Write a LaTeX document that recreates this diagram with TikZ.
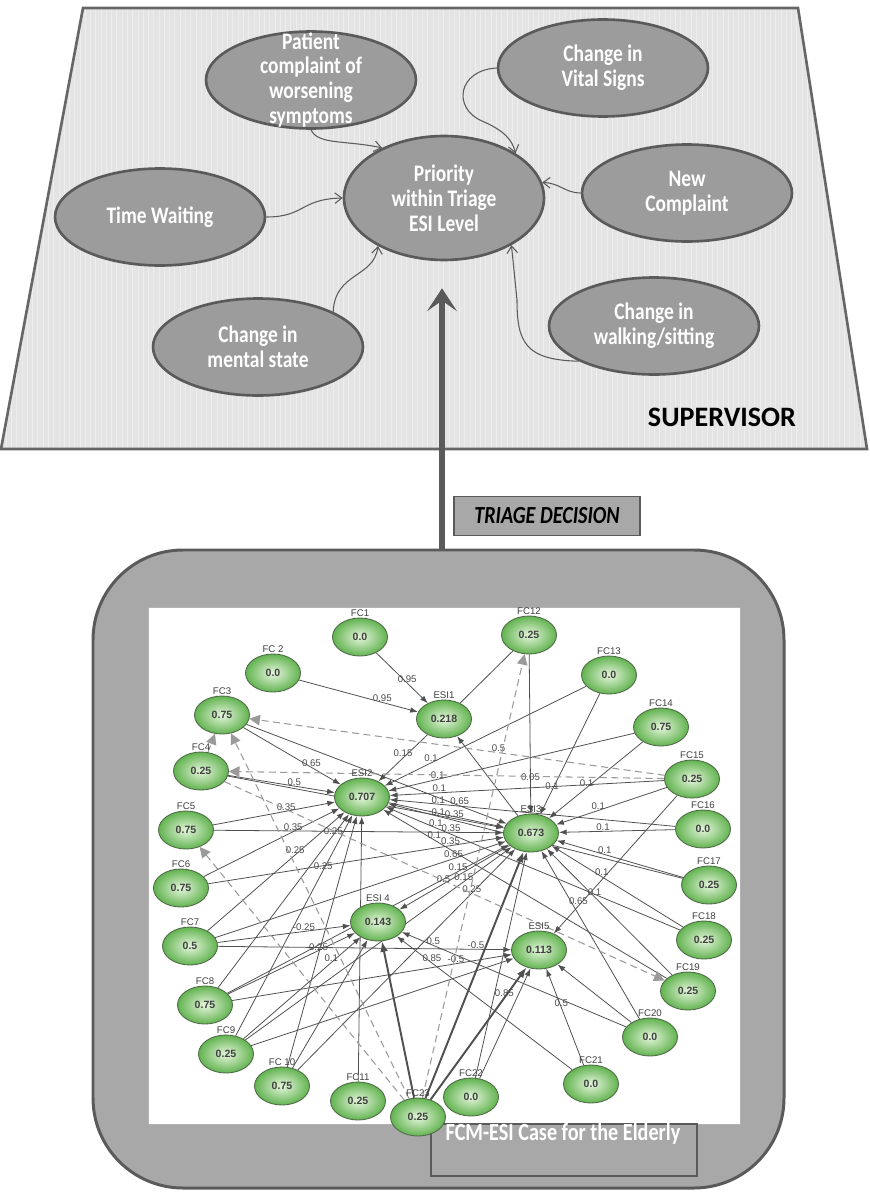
\documentclass[tikz,border=0pt]{standalone}
\usepackage{fontspec}
\setmainfont{Liberation Sans}
\newfontfamily\condfont{Carlito}[FakeStretch=0.82]
\newfontfamily\capsfont{Carlito}
\usetikzlibrary{positioning,arrows.meta,shapes.geometric,patterns}
\pgfdeclarelayer{back}
\pgfsetlayers{back,main}
\definecolor{panelgray}{HTML}{E4E4E4}
\definecolor{bubblegray}{HTML}{9C9C9C}
\definecolor{rimgray}{HTML}{5A5A5A}
\definecolor{boxgray}{HTML}{A8A8A8}
\definecolor{edgegray}{HTML}{505050}
\definecolor{dashgray}{HTML}{9A9A9A}
\definecolor{fcmgreen}{HTML}{62B350}
\definecolor{fcmlight}{HTML}{E6F6DD}
\definecolor{fcmrim}{HTML}{4F6B47}
\tikzset{
  bubble/.style={ellipse, draw=rimgray, line width=1.5pt, fill=bubblegray,
    minimum width=4.2cm, minimum height=1.94cm, inner sep=0pt},
  bubbletext/.style={align=center, text=white, inner sep=0pt,
    font=\condfont\bfseries\fontsize{13.5}{14.2}\selectfont},
  soft/.style={draw=rimgray, line width=0.6pt, -{Straight Barb[length=4pt,width=6pt]}},
  bigarrow/.style={draw=rimgray, line width=3.4pt, -{Stealth[length=13pt,width=17pt,inset=6pt]}},
  fcnode/.style={ellipse, draw=fcmrim, line width=0.5pt, inner color=fcmlight, outer color=fcmgreen,
    minimum width=1.1cm, minimum height=0.76cm, inner sep=0pt, text=black!75,
    font=\bfseries\fontsize{6}{7}\selectfont},
  fclab/.style={font=\fontsize{5.5}{6}\selectfont, text=black!75, inner sep=0.5pt},
  fcmedge/.style={draw=edgegray, line width=0.45pt, -{Latex[length=4.4pt,width=3.2pt]}},
  fcmbold/.style={fcmedge, line width=1.1pt, -{Latex[length=6pt,width=4.5pt]}},
  fcmdash/.style={draw=dashgray, line width=0.6pt, dash pattern=on 4pt off 2.5pt,
    -{Triangle[length=6pt,width=6pt]}},
  wt/.style={font=\fontsize{5.5}{6}\selectfont, text=black!70, inner sep=0.3pt, above},
}
\begin{document}
\begin{tikzpicture}[x=0.02cm, y=-0.02cm]
  \useasboundingbox (0,0) rectangle (869,1193);
  % supervisor panel
  \fill[panelgray] (83,8) -- (798,8) -- (867,449) -- (1,449) -- cycle;
  \fill[pattern=vertical lines, pattern color=black!7] (83,8) -- (798,8) -- (867,449) -- (1,449) -- cycle;
  \draw[gray!80!black, line width=1.5pt] (83,8) -- (798,8) -- (867,449) -- (1,449) -- cycle;
  \node[bubble, label={[bubbletext]center:Patient\\complaint of\\worsening\\symptoms}] (patient) at (311,80) {};
  \node[bubble, label={[bubbletext]center:Change in\\Vital Signs}] (vital) at (603,68) {};
  \node[bubble, minimum width=4cm, minimum height=2.48cm,
        label={[bubbletext]center:Priority\\within Triage\\ESI Level}] (prio) at (444,198) {};
  \node[bubble, label={[bubbletext]center:Time Waiting}] (time) at (160,217) {};
  \node[bubble, label={[bubbletext]center:New\\Complaint}] (newc) at (687,193) {};
  \node[bubble, label={[bubbletext]center:Change in\\mental state}] (mental) at (258,347) {};
  \node[bubble, label={[bubbletext]center:Change in\\walking/sitting}] (walking) at (654,326) {};
  \node[font=\capsfont\bfseries\fontsize{16}{18}\selectfont] (supervisor) at (722,417) {SUPERVISOR};
  \draw[soft] (patient.south) .. controls (318,145) and (345,140) .. (prio.141);
  \draw[soft] (vital.west) .. controls (458,70) and (452,108) .. (482,121)
              .. controls (505,131) and (512,140) .. (prio.32);
  \draw[soft] (time.east) .. controls (305,217) and (300,199) .. (prio.west);
  \draw[soft] (newc.west) .. controls (565,193) and (560,183) .. (prio.9);
  \draw[soft] (mental.north east) .. controls (335,272) and (374,278) .. (prio.216);
  \draw[soft] (walking.south west) .. controls (525,360) and (517,342) .. (517,300) -- (prio.325);

  % FCM panel
  \begin{pgfonlayer}{back}
    \draw[rimgray, line width=1.7pt, fill=boxgray, rounded corners=1.8cm] (93,550) rectangle (784,1188);
    \draw[gray!60, line width=0.4pt, fill=white] (148,607) rectangle (740,1124);
    \draw[rimgray, line width=0.6pt] (431,1124) rectangle (697,1176);
  \end{pgfonlayer}
  \coordinate (framenotch) at (442,550);
  \draw[bigarrow, shorten >=0.54cm] (framenotch) -- (framenotch |- prio.south);
  \node[draw=rimgray, line width=0.8pt, fill=boxgray, minimum width=3.72cm, minimum height=0.78cm,
        font=\condfont\bfseries\itshape\fontsize{14}{16}\selectfont] (triage) at (547,516) {TRIAGE DECISION};
  \node[text=white, font=\condfont\bfseries\fontsize{14}{16}\selectfont] (caption) at (563,1134) {FCM-ESI Case for the Elderly};

  % concepts of the map: name / x / y / title / value
  \foreach \nm/\px/\py/\lab/\val in {
      fc1/360/637/FC1/0.0, fc2/273/673/FC 2/0.0, fc3/222/715/FC3/0.75,
      fc4/201/771/FC4/0.25, fc5/186/830/FC5/0.75, fc6/181/888/FC6/0.75,
      fc7/190/946/FC7/0.5, fc8/205/1005/FC8/0.75, fc9/226/1054/FC9/0.25,
      fc10/282/1086/FC 10/0.75, fc11/358/1101/FC11/0.25, fc12/529/635/FC12/0.25,
      fc13/609/675/FC13/0.0, fc14/661/727/FC14/0.75, fc15/692/779/FC15/0.25,
      fc16/703/829/FC16/0.0, fc17/709/885/FC17/0.25, fc18/704/940/FC18/0.25,
      fc19/688/991/FC19/0.25, fc20/650/1037/FC20/0.0, fc21/591/1084/FC21/0.0,
      fc22/471/1097/FC22/0.0, fc23/418/1117/FC23/0.25,
      esi1/444/719/ESI1/0.218, esi2/362/797/ESI2/0.707, esi3/531/833/ESI3/0.673,
      esi4/378/922/ESI 4/0.143, esi5/539/950/ESI5/0.113}
    \node[fcnode, label={[fclab]above:\lab}] (\nm) at (\px,\py) {\val};

  \begin{pgfonlayer}{back}
    % weighted links: source / label pos / weight
    \foreach \s/\p/\w in {fc1/.6/0.95, fc2/.7/0.95, esi3/.5/}
      \draw[fcmedge] (\s) -- node[wt,pos=\p]{\w} (esi1);
    \foreach \s/\p/\w in {esi1/.5/0.15, fc3/.7/0.65, fc4/.62/0.5, fc5/.6/0.35, fc6/.66/0.35,
        fc7/.64/0.25, fc8/.88/0.25, fc9/.75/0.25, fc10/.5/, fc11/.5/, fc13/.77/0.1,
        fc14/.8/0.1, fc15/.82/0.1, fc16/.83/0.1, fc17/.83/0.1, fc18/.83/0.1, fc19/.82/0.1}
      \draw[fcmedge] (\s) -- node[wt,pos=\p]{\w} (esi2);
    \foreach \s/\p/\w in {fc3/.82/0.65, fc4/.82/0.35, fc5/.82/0.35, fc6/.82/0.35,
        fc7/.82/0.65, fc8/.82/0.15, fc9/.82/0.15, fc10/.8/0.25, esi2/.5/, fc12/.8/0.05,
        fc13/.8/0.1, fc14/.6/0.1, fc15/.62/0.1, fc16/.62/0.1, fc17/.62/0.1,
        fc18/.62/0.1, fc19/.62/0.1, fc20/.5/, fc22/.5/}
      \draw[fcmedge] (\s) -- node[wt,pos=\p]{\w} (esi3);
    \foreach \s/\p/\w in {esi3/.6/0.5, fc7/.65/-0.25, fc8/.7/-0.25, fc9/.75/0.1,
        fc10/.5/, fc20/.86/0.5, fc21/.8/0.85}
      \draw[fcmedge] (\s) -- node[wt,pos=\p]{\w} (esi4);
    \foreach \s/\p/\w in {fc7/.88/-0.5, fc8/.8/-0.5, fc9/.5/, fc15/.8/0.65,
        fc21/.6/0.5, fc22/.5/, fc20/.5/}
      \draw[fcmedge] (\s) -- node[wt,pos=\p]{\w} (esi5);
    \draw[edgegray, line width=0.45pt] (esi1) -- (fc12);
    \draw[fcmbold] (fc23) -- (esi4);
    \draw[fcmbold] (fc23) -- (esi3);
    \draw[fcmbold] (fc23) -- node[wt,pos=.77]{0.85} (esi5);
    % feedback links
    \draw[fcmdash] (fc15) -- node[wt,pos=.4]{0.5} (fc3);
    \draw[fcmdash] (fc15) -- (fc4);
    \draw[fcmdash] (fc4) -- (fc3);
    \draw[fcmdash] (fc4) -- (fc19);
    \draw[fcmdash] (fc23) -- (fc12);
    \draw[fcmdash] (fc23) -- (fc3);
    \draw[fcmdash] (fc23) -- (fc5);
  \end{pgfonlayer}
\end{tikzpicture}
\end{document}
